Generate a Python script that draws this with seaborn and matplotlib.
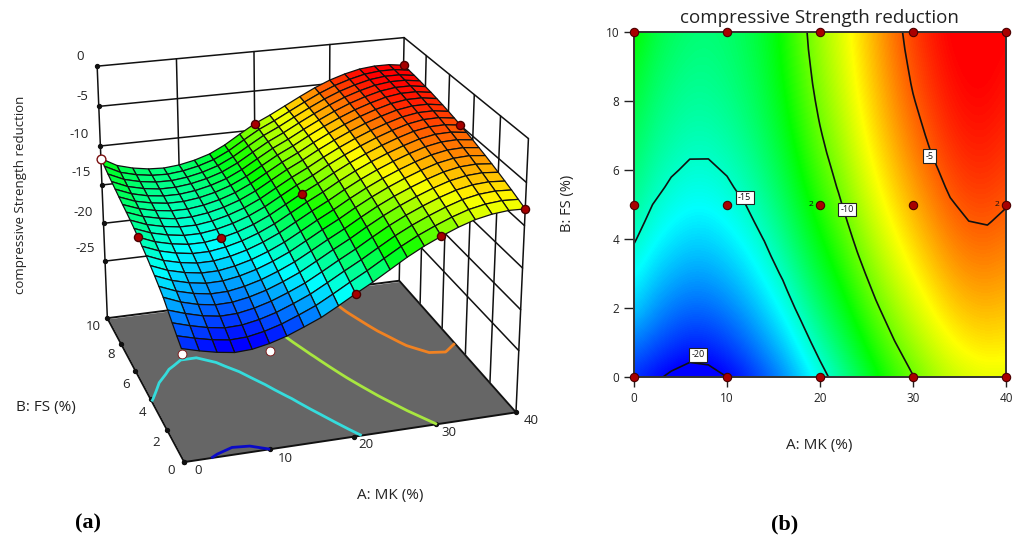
import numpy as np
import matplotlib
matplotlib.use('Agg')
import matplotlib.pyplot as plt
from matplotlib.colors import Normalize
import seaborn as sns

# values, one row per FS level (0, 0.5 ... 10)
mk_levels = [0, 2, 4, 6, 8, 10, 12, 14, 16, 18, 20, 22, 24, 26, 28, 30, 32, 34, 36, 38, 40]
fs_levels = [0, 0.5, 1, 1.5, 2, 2.5, 3, 3.5, 4, 4.5, 5, 5.5, 6, 6.5, 7, 7.5, 8, 8.5, 9, 9.5, 10]
strength = [
    [-19.20, -19.75, -20.20, -20.50, -20.40, -20.00, -19.40, -18.60, -17.75, -16.65, -15.50, -14.40, -13.20, -12.00, -10.95, -10.05, -9.25, -8.60, -8.20, -8.00, -8.05],
    [-18.60, -19.15, -19.61, -19.91, -19.83, -19.44, -18.85, -18.06, -17.20, -16.11, -14.97, -13.88, -12.69, -11.52, -10.49, -9.61, -8.82, -8.17, -7.77, -7.59, -7.67],
    [-17.95, -18.55, -19.04, -19.35, -19.28, -18.90, -18.32, -17.54, -16.68, -15.59, -14.46, -13.38, -12.20, -11.05, -10.05, -9.18, -8.40, -7.75, -7.35, -7.19, -7.29],
    [-17.30, -17.97, -18.51, -18.82, -18.76, -18.39, -17.82, -17.05, -16.18, -15.10, -13.97, -12.90, -11.73, -10.61, -9.63, -8.77, -8.00, -7.36, -6.96, -6.82, -6.95],
    [-16.63, -17.45, -18.00, -18.31, -18.26, -17.90, -17.34, -16.58, -15.71, -14.62, -13.50, -12.44, -11.28, -10.19, -9.22, -8.37, -7.61, -6.97, -6.58, -6.45, -6.61],
    [-16.16, -16.98, -17.52, -17.83, -17.79, -17.44, -16.89, -16.14, -15.26, -14.18, -13.07, -12.02, -10.87, -9.79, -8.84, -8.01, -7.26, -6.62, -6.23, -6.12, -6.29],
    [-15.70, -16.52, -17.06, -17.37, -17.34, -17.00, -16.46, -15.72, -14.84, -13.75, -12.64, -11.60, -10.46, -9.41, -8.47, -7.64, -6.90, -6.27, -5.89, -5.79, -5.99],
    [-15.29, -16.11, -16.63, -16.94, -16.92, -16.59, -16.06, -15.33, -14.44, -13.36, -12.25, -11.22, -10.09, -9.06, -8.13, -7.31, -6.58, -5.96, -5.58, -5.50, -5.71],
    [-14.89, -15.71, -16.22, -16.53, -16.52, -16.20, -15.68, -14.96, -14.07, -12.98, -11.88, -10.86, -9.74, -8.71, -7.80, -6.99, -6.27, -5.65, -5.28, -5.21, -5.43],
    [-14.54, -15.34, -15.85, -16.15, -16.15, -15.84, -15.33, -14.62, -13.72, -12.63, -11.53, -10.52, -9.41, -8.40, -7.49, -6.69, -5.98, -5.37, -5.01, -4.95, -5.19],
    [-14.20, -15.00, -15.50, -15.80, -15.80, -15.50, -15.00, -14.30, -13.40, -12.30, -11.20, -10.20, -9.10, -8.10, -7.20, -6.40, -5.70, -5.10, -4.75, -4.70, -4.95],
    [-13.90, -14.68, -15.17, -15.47, -15.47, -15.18, -14.69, -14.00, -13.10, -11.99, -10.89, -9.90, -8.81, -7.82, -6.93, -6.13, -5.44, -4.85, -4.51, -4.47, -4.73],
    [-13.63, -14.41, -14.88, -15.17, -15.18, -14.90, -14.42, -13.74, -12.83, -11.72, -10.62, -9.64, -8.56, -7.57, -6.68, -5.89, -5.21, -4.63, -4.30, -4.27, -4.53],
    [-13.39, -14.15, -14.61, -14.90, -14.90, -14.63, -14.16, -13.49, -12.58, -11.46, -10.35, -9.38, -8.31, -7.34, -6.45, -5.65, -4.98, -4.42, -4.10, -4.08, -4.35],
    [-13.18, -13.92, -14.38, -14.65, -14.66, -14.40, -13.94, -13.28, -12.36, -11.23, -10.12, -9.16, -8.10, -7.13, -6.23, -5.44, -4.78, -4.23, -3.93, -3.91, -4.19],
    [-12.95, -13.72, -14.16, -14.43, -14.43, -14.18, -13.73, -13.08, -12.16, -11.02, -9.91, -8.96, -7.91, -6.93, -6.04, -5.25, -4.60, -4.06, -3.77, -3.76, -4.03],
    [-12.70, -13.50, -13.98, -14.23, -14.24, -14.00, -13.56, -12.92, -11.99, -10.84, -9.72, -8.78, -7.74, -6.77, -5.86, -5.07, -4.43, -3.91, -3.64, -3.63, -3.91],
    [-12.45, -13.30, -13.78, -14.06, -14.06, -13.83, -13.40, -12.77, -11.84, -10.68, -9.55, -8.62, -7.59, -6.61, -5.71, -4.91, -4.28, -3.78, -3.52, -3.52, -3.79],
    [-12.20, -13.10, -13.60, -13.88, -13.92, -13.70, -13.28, -12.66, -11.72, -10.55, -9.42, -8.50, -7.48, -6.49, -5.57, -4.78, -4.16, -3.67, -3.43, -3.43, -3.69],
    [-11.90, -12.90, -13.42, -13.72, -13.79, -13.58, -13.17, -12.56, -11.62, -10.43, -9.29, -8.38, -7.37, -6.38, -5.45, -4.65, -4.04, -3.57, -3.35, -3.35, -3.61],
    [-11.60, -12.70, -13.25, -13.58, -13.68, -13.50, -13.10, -12.50, -11.55, -10.35, -9.20, -8.30, -7.30, -6.30, -5.35, -4.55, -3.95, -3.50, -3.30, -3.30, -3.55],
]

# design points
design_mk = [0, 10, 20, 30, 40, 0, 10, 20, 30, 40, 0, 10, 20, 30, 40]
design_fs = [0, 0, 0, 0, 0, 5, 5, 5, 5, 5, 10, 10, 10, 10, 10]
# the ones that show in the 3D view
red_mk = [20, 40, 0, 10, 20, 40, 20, 30, 40]
red_fs = [10, 10, 5, 5, 5, 5, 0, 0, 0]
# white ones lie under the surface
white_mk = [0, 10]
white_fs = [0, 0]
white_z = [-19.8, -20.9]
open_mk = [0]
open_fs = [10]
open_z = [-11.6]

contour_levels = [-20, -15, -10, -5]
floor_colors = ['#0a0ac8', '#35dcdc', '#a8e640', '#f08222']
z_ticks = [0, -5, -10, -15, -20, -25]
z_floor = -32.7

sns.set_theme(style='white')
plt.rcParams['font.family'] = ['Open Sans', 'DejaVu Sans']

W, H = 1024, 540
fig = plt.figure(figsize=(W / 100, H / 100), dpi=100)


def label(px, py, s, size=9, **kw):
    kw.setdefault('ha', 'center')
    kw.setdefault('va', 'center')
    kw.setdefault('color', '#222222')
    fig.text(px / W, 1 - py / H, s, fontsize=size, **kw)


X, Y = np.meshgrid(mk_levels, fs_levels)
Z = np.array(strength)
cmap = sns.blend_palette(['#0000ff', '#00ffff', '#00ff00', '#ffff00', '#ff0000'], n_colors=256, as_cmap=True)
norm = Normalize(-20.0, -3.5)

# left: response surface
ax = fig.add_axes([27 / W, 30 / H, 535 / W, 535 / H], projection='3d', computed_zorder=False)
ax.set_proj_type('persp', focal_length=0.7)
ax.view_init(elev=22.5, azim=-107.4)
ax.set_box_aspect((1, 1, 0.85))
ax.set_xlim(0, 40, view_margin=0)
ax.set_ylim(0, 10, view_margin=0)
ax.set_zlim(z_floor, 0, view_margin=0)
ax.set_axis_off()
ax.patch.set_alpha(0)

line = dict(color='#111111', lw=1.1, zorder=1)
for z in z_ticks:
    ax.plot([0, 40], [10, 10], [z, z], **line)
    ax.plot([40, 40], [0, 10], [z, z], **line)
for x in [0, 10, 20, 30, 40]:
    ax.plot([x, x], [10, 10], [z_floor, 0], **line)
for y in [0, 2, 4, 6, 8]:
    ax.plot([40, 40], [y, y], [z_floor, 0], **line)
ax.scatter([0] * len(z_ticks), [10] * len(z_ticks), z_ticks, color='#111111', s=8, depthshade=False, zorder=1)

ax.plot_surface(np.array([[0, 40], [0, 40]]), np.array([[0, 0], [10, 10]]), np.full((2, 2), z_floor),
                color='#666666', shade=False, zorder=2)
floor_line = dict(color='#111111', lw=1.4, zorder=3)
ax.plot([0, 40, 40, 0, 0], [0, 0, 10, 10, 0], [z_floor] * 5, **floor_line)
ax.scatter([0, 10, 20, 30, 40], [0] * 5, [z_floor] * 5, color='#111111', s=8, depthshade=False, zorder=3)
ax.scatter([0] * 6, [0, 2, 4, 6, 8, 10], [z_floor] * 6, color='#111111', s=8, depthshade=False, zorder=3)
ax.contour(X, Y, Z, levels=contour_levels, zdir='z', offset=z_floor, colors=floor_colors, linewidths=2, zorder=3)

ax.scatter(white_mk, white_fs, white_z, color='white', edgecolor='#7a1010', linewidth=0.6, s=40,
           depthshade=False, zorder=4)
ax.plot_surface(X, Y, Z, cmap=cmap, norm=norm, rstride=1, cstride=1, edgecolor='#111111', linewidth=0.9,
                antialiased=True, shade=False, zorder=5)
red_z = [Z[int(b * 2), int(a / 2)] for a, b in zip(red_mk, red_fs)]
ax.scatter(red_mk, red_fs, red_z, color='#a80000', edgecolor='#4a0000', s=34, depthshade=False, zorder=6)
ax.scatter(open_mk, open_fs, open_z, color='white', edgecolor='#7a1010', s=40, depthshade=False, zorder=6)

for s, px, py in zip(['0', '-5', '-10', '-15', '-20', '-25'], [80, 82, 79, 81, 83, 85], [57, 96, 134, 173, 212, 249]):
    label(px, py, s, size=9.5)
for s, px, py in zip(['10', '8', '6', '4', '2', '0'], [93, 111, 126, 142, 156, 171], [326, 355, 384, 413, 442, 471]):
    label(px, py, s, size=9.5)
for s, px, py in zip(['0', '10', '20', '30', '40'], [198, 285, 366, 449, 531], [471, 458, 445, 432, 420]):
    label(px, py, s, size=9.5)
label(21, 195, 'compressive Strength reduction', size=9.5, rotation=90)
label(46, 408, 'B: FS (%)', size=11)
label(390, 496, 'A: MK (%)', size=11)
label(567, 203, 'B: FS (%)', size=10.5, rotation=90)

# right: contour plot
ax2 = fig.add_axes([634 / W, (H - 377) / H, 372 / W, 345 / H])
ax2.imshow(Z, cmap=cmap, norm=norm, origin='lower', extent=(-1, 41, -0.25, 10.25), aspect='auto',
           interpolation='bicubic', zorder=1)
cs = ax2.contour(X, Y, Z, levels=contour_levels, colors='#111111', linewidths=1.2, linestyles='solid', zorder=2)
sns.scatterplot(x=design_mk, y=design_fs, ax=ax2, color='#a80000', edgecolor='#4a0000', linewidth=0.8, s=36,
                clip_on=False, zorder=4, legend=False)
ax2.set_xlim(0, 40)
ax2.set_ylim(0, 10)
ax2.set_xticks([0, 10, 20, 30, 40])
ax2.set_yticks([0, 2, 4, 6, 8, 10])
ax2.tick_params(axis='both', length=7.5, width=1, color='#222222', labelcolor='#222222', labelsize=8.5, bottom=True, left=True, pad=3)
ax2.grid(False)
for sp in ax2.spines.values():
    sp.set_color('#333333')
    sp.set_linewidth(1.4)
box = dict(boxstyle='square,pad=0.25', fc='white', ec='#222222', lw=0.8)
for s, x, y in zip(['-15', '-10', '-5', '-20'], [11.9, 22.9, 31.8, 6.9], [5.2, 4.85, 6.4, 0.64]):
    ax2.text(x, y, s, fontsize=6.5, ha='center', va='center', bbox=box, zorder=3, color='#111111')
for x in [19.3, 39.3]:
    ax2.text(x, 5, '2', fontsize=6, ha='right', va='center', zorder=3, color='#111111')

label(819, 18, 'compressive Strength reduction', size=13.5)
label(819, 445, 'A: MK (%)', size=11)

label(88, 523, '(a)', size=16, family='Liberation Serif', weight='bold', color='black')
label(785, 524, '(b)', size=16, family='Liberation Serif', weight='bold', color='black')

fig.savefig('out.png', dpi=100)
